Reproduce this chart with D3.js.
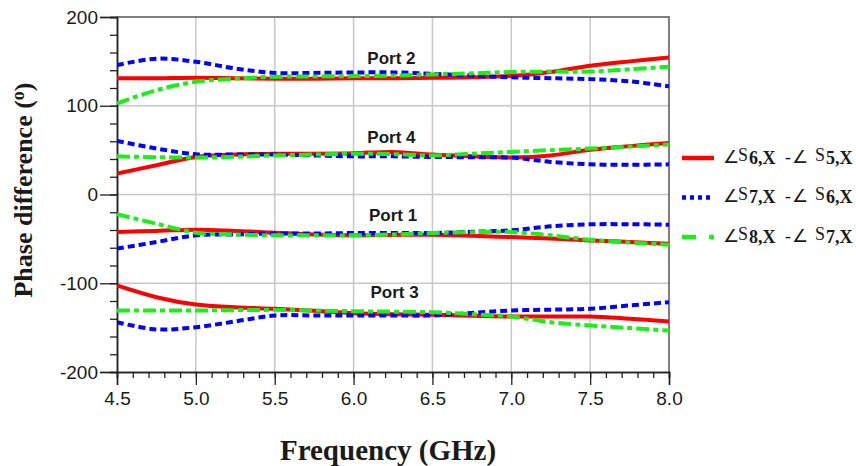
<!DOCTYPE html>
<html>
<head>
<meta charset="utf-8">
<script src="https://cdn.jsdelivr.net/npm/d3@7"></script>
<style>
  body { margin: 0; background: #fff; }
  text { fill: #1a1a1a; }
</style>
</head>
<body>
<svg id="chart" width="856" height="466"></svg>
<script>
// Frequency samples (GHz)
const freq = [4.5, 4.75, 5.0, 5.25, 5.5, 5.75, 6.0, 6.25, 6.5, 6.75, 7.0, 7.25, 7.5, 7.75, 8.0];

// Axis ticks
const xTicks = [4.5, 5.0, 5.5, 6.0, 6.5, 7.0, 7.5, 8.0];
const yTicks = [-200, -100, 0, 100, 200];

// Phase difference, ∠S6,X − ∠S5,X (degrees)
const d65_port2 = [131, 131, 131.5, 131, 130.5, 130.5, 131, 131, 131.5, 132, 133.5, 138, 145, 150, 154.5];
const d65_port4 = [23.6, 33, 42.3, 45, 46, 46, 46.5, 48, 45, 43, 41.6, 44, 50.5, 54.5, 58];
const d65_port1 = [-42.3, -41, -39.6, -41, -43, -45, -46, -45.5, -45.3, -46.5, -48, -49.5, -51.7, -53.5, -55.4];
const d65_port3 = [-102.5, -115.7, -124, -127, -128.8, -131, -133.7, -135, -135.6, -136.5, -137.5, -137.5, -137.5, -140, -143];

// Phase difference, ∠S7,X − ∠S6,X (degrees)
const d76_port2 = [145.8, 153, 149.6, 142, 137, 137, 137.5, 137.6, 136, 134, 132, 131, 130, 127.5, 122];
const d76_port4 = [60.4, 51.8, 45.4, 45, 45, 44, 43, 43, 42.3, 42, 41.6, 36.7, 34, 33.5, 34];
const d76_port1 = [-61, -53.6, -46, -45, -44, -44, -43.4, -43.4, -43.4, -42, -40.4, -35.9, -33.6, -33.5, -34];
const d76_port3 = [-143.9, -152, -149.5, -143, -136.3, -136.3, -136.3, -136.3, -136.3, -133.5, -130.7, -129.8, -128.8, -125, -121.3];

// Phase difference, ∠S8,X − ∠S7,X (degrees)
const d87_port2 = [102.6, 117.6, 127, 130.5, 132.6, 133, 133.4, 134, 135.3, 136.5, 138, 138.5, 138.5, 141, 144];
const d87_port4 = [43, 42, 41.6, 42.5, 44, 45, 46, 45.5, 44, 46, 48, 50, 51.8, 54, 56.3];
const d87_port1 = [-22.3, -32.9, -43, -45, -46, -46, -46, -45, -43.4, -42.5, -42.3, -46, -51, -54, -56.6];
const d87_port3 = [-130.7, -130.7, -130.7, -130.3, -130, -130.7, -131.5, -132, -132.6, -135, -137.5, -143.9, -147.6, -150.5, -153.3];

// Port annotations: label, frequency, phase
const portLabels = ["Port 2", "Port 4", "Port 1", "Port 3"];
const portLabelFreq = [6.24, 6.24, 6.25, 6.26];
const portLabelPhase = [147, 58, -30, -116.6];

const series = [
  { color: "#ff0000", dash: null, legendDash: null, sub1: "6,X", sub2: "5,X",
    traces: [d65_port2, d65_port4, d65_port1, d65_port3] },
  { color: "#0000ff", dash: "7,4", legendDash: "4,4", sub1: "7,X", sub2: "6,X",
    traces: [d76_port2, d76_port4, d76_port1, d76_port3] },
  { color: "#19f019", dash: "13,4,5,4", legendDash: "14,13,5,20", sub1: "8,X", sub2: "7,X",
    traces: [d87_port2, d87_port4, d87_port1, d87_port3] }
];

const svg = d3.select("#chart");
const plot = { left: 117, right: 669, top: 17, bottom: 372 };

const x = d3.scaleLinear().domain([4.5, 8.0]).range([plot.left, plot.right]);
const y = d3.scaleLinear().domain([-200, 200]).range([plot.bottom, plot.top]);

// Grid
const grid = svg.append("g");
grid.selectAll("line.gx").data(xTicks.slice(1, -1)).join("line")
  .attr("x1", d => x(d)).attr("x2", d => x(d))
  .attr("y1", plot.top).attr("y2", plot.bottom)
  .attr("stroke", "#c8c8c8").attr("stroke-width", 1.5);
grid.selectAll("line.gy").data(yTicks.slice(1, -1)).join("line")
  .attr("y1", d => y(d)).attr("y2", d => y(d))
  .attr("x1", plot.left).attr("x2", plot.right)
  .attr("stroke", "#c8c8c8").attr("stroke-width", 1.5);

// Frame (top and right)
svg.append("path")
  .attr("d", `M${plot.left},${plot.top}H${plot.right}V${plot.bottom}`)
  .attr("fill", "none").attr("stroke", "#555").attr("stroke-width", 1.5);

// Bottom axis with major and minor ticks
const xAxisMinor = d3.axisBottom(x).tickValues(d3.range(45, 81).map(v => v / 10))
  .tickSize(6).tickFormat("");
const xAxisMajor = d3.axisBottom(x).tickValues(xTicks).tickSize(13)
  .tickFormat(d => d.toFixed(1)).tickPadding(7);
const gxMinor = svg.append("g").attr("transform", `translate(0,${plot.bottom})`).call(xAxisMinor);
const gxMajor = svg.append("g").attr("transform", `translate(0,${plot.bottom})`).call(xAxisMajor);
[gxMinor, gxMajor].forEach(g => {
  g.select(".domain").attr("stroke", "#222").attr("stroke-width", 1.5);
  g.selectAll(".tick line").attr("stroke", "#222").attr("stroke-width", 1.3);
});
gxMajor.selectAll(".tick text")
  .attr("font-family", "Liberation Sans, Arial, sans-serif").attr("font-size", 19)
  .attr("fill", "#1a1a1a");

// Left axis with major and minor ticks (plain hyphen for negatives)
const yAxisMinor = d3.axisLeft(y).tickValues(d3.range(-200, 201, 20)).tickSize(7).tickFormat("");
const yAxisMajor = d3.axisLeft(y).tickValues(yTicks).tickSize(17).tickFormat(d => String(d)).tickPadding(2);
const gyMinor = svg.append("g").attr("transform", `translate(${plot.left},0)`).call(yAxisMinor);
const gyMajor = svg.append("g").attr("transform", `translate(${plot.left},0)`).call(yAxisMajor);
[gyMinor, gyMajor].forEach(g => {
  g.select(".domain").attr("stroke", "#222").attr("stroke-width", 1.5);
  g.selectAll(".tick line").attr("stroke", "#222").attr("stroke-width", 1.3);
});
gyMajor.selectAll(".tick text")
  .attr("font-family", "Liberation Sans, Arial, sans-serif").attr("font-size", 19)
  .attr("fill", "#1a1a1a");

// Axis titles
svg.append("text")
  .attr("x", 388).attr("y", 460)
  .attr("text-anchor", "middle")
  .attr("font-family", "Liberation Serif, Times New Roman, serif")
  .attr("font-weight", "bold").attr("font-size", 29)
  .text("Frequency (GHz)");

const yTitle = svg.append("text")
  .attr("transform", "translate(32,190) rotate(-90)")
  .attr("text-anchor", "middle")
  .attr("font-family", "Liberation Serif, Times New Roman, serif")
  .attr("font-weight", "bold").attr("font-size", 26);
yTitle.append("tspan").text("Phase difference (");
yTitle.append("tspan").attr("dy", -8).attr("font-size", 18).text("o");
yTitle.append("tspan").attr("dy", 8).text(")");

// Curves
const line = d3.line()
  .x((d, i) => x(freq[i]))
  .y(d => y(d))
  .curve(d3.curveCatmullRom.alpha(0.5));

svg.append("clipPath").attr("id", "plotClip")
  .append("rect").attr("x", plot.left).attr("y", plot.top)
  .attr("width", plot.right - plot.left).attr("height", plot.bottom - plot.top);

const curves = svg.append("g").attr("clip-path", "url(#plotClip)");
series.forEach(s => {
  curves.selectAll(null).data(s.traces).join("path")
    .attr("d", line)
    .attr("fill", "none")
    .attr("stroke", s.color)
    .attr("stroke-width", 4)
    .attr("stroke-dasharray", s.dash);
});

// Port annotations
svg.append("g").selectAll("text").data(portLabels).join("text")
  .attr("x", (d, i) => x(portLabelFreq[i]))
  .attr("y", (d, i) => y(portLabelPhase[i]))
  .attr("text-anchor", "middle")
  .attr("font-family", "Liberation Sans, Arial, sans-serif")
  .attr("font-weight", "bold").attr("font-size", 17)
  .text(d => d);

// Legend
const legend = svg.append("g").attr("transform", "translate(682,158)");
series.forEach((s, i) => {
  const row = legend.append("g").attr("transform", `translate(0,${i * 39.5})`);
  row.append("line")
    .attr("x1", 0).attr("x2", 32).attr("y1", 0).attr("y2", 0)
    .attr("stroke", s.color).attr("stroke-width", 4.5)
    .attr("stroke-dasharray", s.legendDash);
  const t = row.append("text")
    .attr("y", 4.5)
    .attr("font-family", "Liberation Serif, Times New Roman, serif")
    .attr("font-size", 18);
  t.append("tspan").attr("x", 41).text("∠");
  t.append("tspan").attr("x", 56).attr("dy", -2).text("S");
  t.append("tspan").attr("x", 67).attr("dy", 3).attr("font-weight", "bold").attr("font-size", 18).text(s.sub1);
  t.append("tspan").attr("x", 103).attr("dy", -1).text("-");
  t.append("tspan").attr("x", 110).text("∠");
  t.append("tspan").attr("x", 133).attr("dy", -2).text("S");
  t.append("tspan").attr("x", 144).attr("dy", 3).attr("font-weight", "bold").attr("font-size", 18).text(s.sub2);
});
</script>
</body>
</html>
